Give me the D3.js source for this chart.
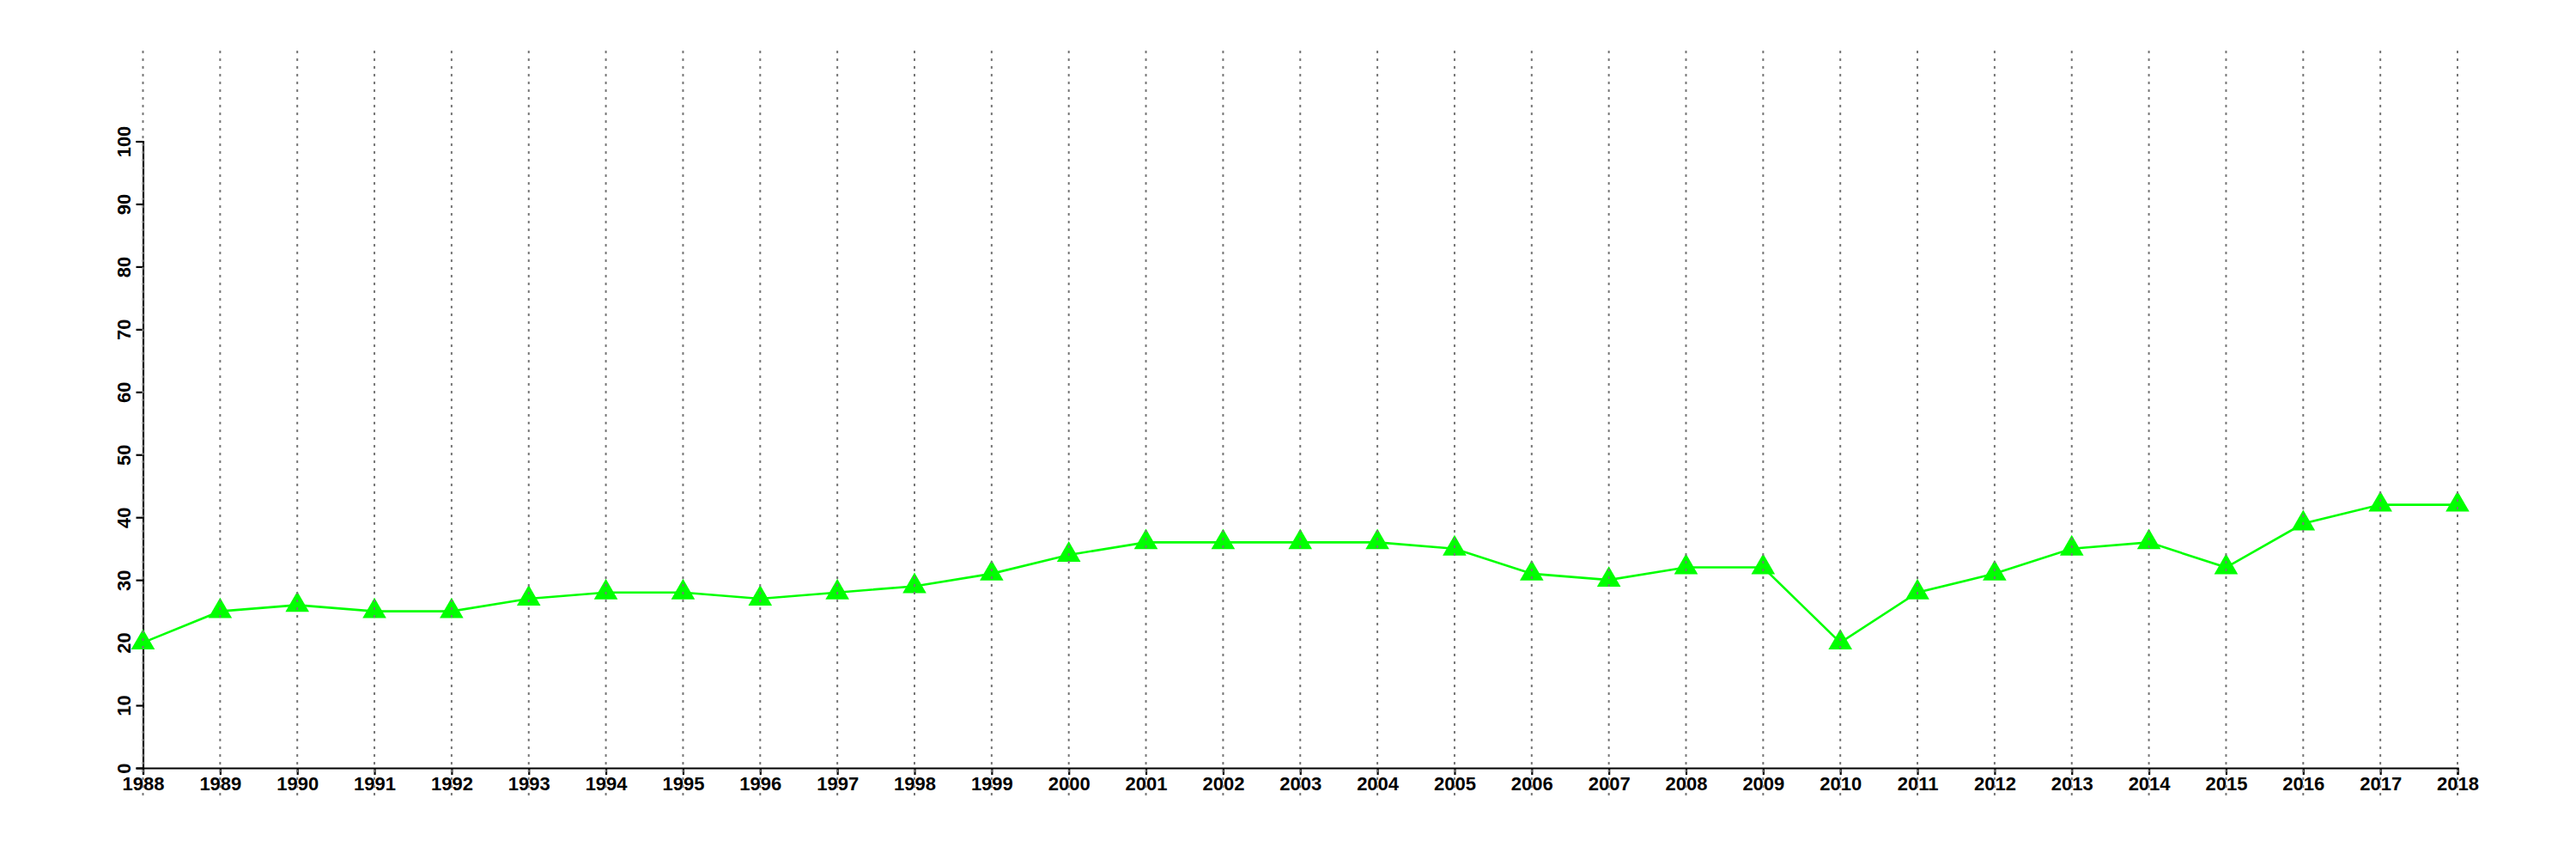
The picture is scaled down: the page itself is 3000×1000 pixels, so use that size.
<!DOCTYPE html>
<html><head><meta charset="utf-8">
<script src="https://cdn.jsdelivr.net/npm/d3@7"></script>
<style>body{margin:0;background:#fff}svg{display:block}</style>
</head><body>
<script>
const years = [1988,1989,1990,1991,1992,1993,1994,1995,1996,1997,1998,1999,2000,2001,2002,2003,2004,2005,2006,2007,2008,2009,2010,2011,2012,2013,2014,2015,2016,2017,2018];
const values = [20,25,26,25,25,27,28,28,27,28,29,31,34,36,36,36,36,35,31,30,32,32,20,28,31,35,36,32,39,42,42];
const yTicks = [0,10,20,30,40,50,60,70,80,90,100];

const W = 3000, H = 1000;
const svg = d3.select("body").append("svg").attr("width", W).attr("height", H);
const x = d3.scaleLinear().domain([1988, 2018]).range([166.5, 2862]);
const y = d3.scaleLinear().domain([0, 100]).range([894, 164.5]);
const font = "'Liberation Sans', Arial, Helvetica, sans-serif";

// axes
const xAxis = svg.append("g").attr("transform", `translate(0,${y(0)})`)
  .call(d3.axisBottom(x).tickValues(years).tickFormat(d3.format("d")).tickSizeOuter(0).tickSize(8).tickPadding(2));
xAxis.select(".domain").attr("stroke", "#000").attr("stroke-width", 2.2);
xAxis.selectAll(".tick line").attr("stroke", "#000").attr("stroke-width", 2.2);
xAxis.selectAll(".tick text").attr("font-family", font).attr("font-size", 22).attr("font-weight", "bold")
  .attr("fill", "#000").attr("dy", null).attr("y", 26);

const yAxis = svg.append("g").attr("transform", `translate(${x(1988)},0)`)
  .call(d3.axisLeft(y).tickValues(yTicks).tickSizeOuter(0).tickSize(8));
yAxis.select(".domain").attr("stroke", "#000").attr("stroke-width", 2.2);
yAxis.selectAll(".tick line").attr("stroke", "#000").attr("stroke-width", 2.2);
yAxis.selectAll(".tick text").attr("font-family", font).attr("font-size", 22).attr("font-weight", "bold")
  .attr("fill", "#000").attr("x", null).attr("dy", null)
  .attr("text-anchor", "middle").attr("transform", "translate(-14.5,0) rotate(-90)");

// line
const data = years.map((yr, i) => ({yr, v: values[i]}));
svg.append("path").datum(data)
  .attr("fill", "none").attr("stroke", "#00ff00").attr("stroke-width", 2.6)
  .attr("d", d3.line().x(d => x(d.yr)).y(d => y(d.v)));

svg.append("g").selectAll("path").data(data).join("path")
  .attr("transform", d => `translate(${x(d.yr)},${y(d.v)})`)
  .attr("d", d3.symbol(d3.symbolTriangle, 330))
  .attr("fill", "#00ff00");

// dotted vertical grid lines drawn on top
svg.append("g").selectAll("line").data(years).join("line")
  .attr("x1", d => x(d)).attr("x2", d => x(d))
  .attr("y1", 59).attr("y2", 928)
  .attr("stroke", "#777").attr("stroke-width", 2)
  .attr("stroke-dasharray", "3,6");
</script>
</body></html>
